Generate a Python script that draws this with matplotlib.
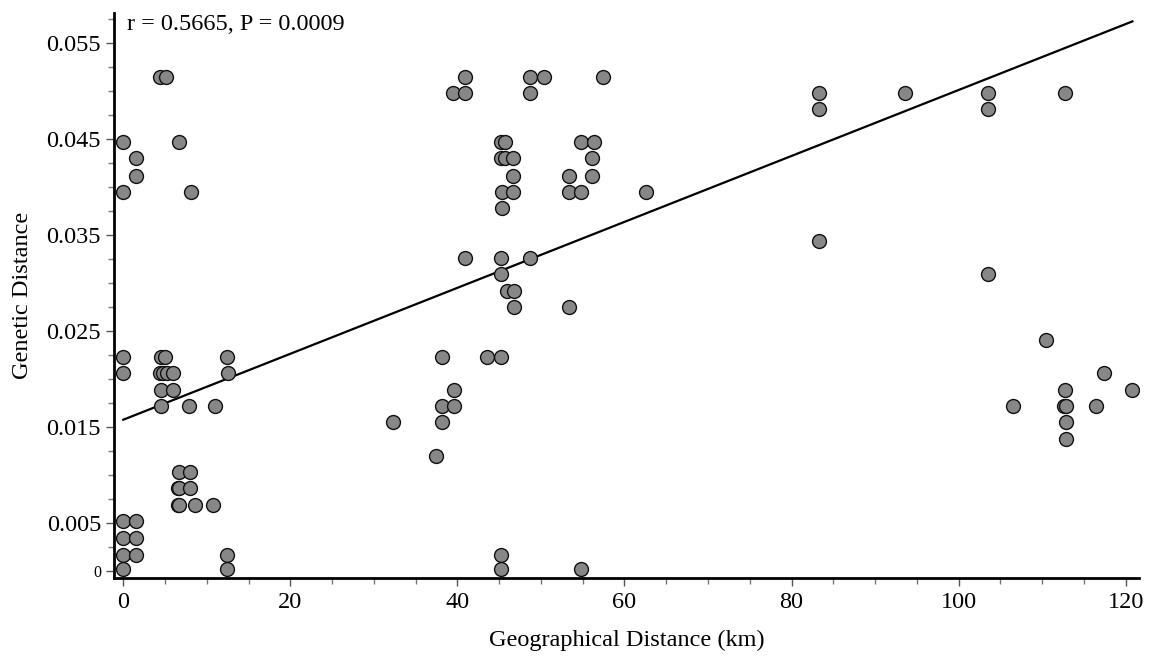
import matplotlib
matplotlib.use("Agg")
import matplotlib.pyplot as plt
import numpy as np
from matplotlib.ticker import FixedLocator, MultipleLocator

# geographical distance (km) and genetic distance for each pair
geo_km = [
    4.4, 5.1, 0.0, 1.5, 1.5, 0.0, 6.7, 8.1,
    0.0, 0.0, 4.5, 5.0, 4.4, 4.8, 5.2, 5.9, 4.5, 5.9, 4.5, 7.9, 11.0,
    12.4, 12.5, 6.7, 8.0, 6.5, 6.7, 8.0, 6.5, 6.7, 8.6, 10.7,
    0.0, 1.5, 0.0, 1.5, 0.0, 1.5, 0.0, 12.4, 12.4,
    32.3, 40.9, 39.5, 40.9, 48.7, 50.4, 48.7, 57.4,
    45.2, 45.7, 45.2, 45.7, 46.7, 46.7, 45.3, 46.7, 45.3,
    54.8, 56.3, 56.1, 53.4, 56.1, 53.4, 54.8, 62.6,
    40.9, 45.2, 48.7, 45.2, 45.9, 46.8, 46.8, 53.4,
    38.1, 43.6, 45.2, 39.6, 38.1, 39.6, 38.1, 37.4,
    45.2, 45.2, 54.8,
    83.3, 83.3, 93.6, 103.5, 103.5, 112.7,
    83.3, 103.5, 110.5, 117.4, 120.7, 112.7,
    112.6, 112.9, 106.5, 116.4, 112.9, 112.9,
]
gen_dist = [
    0.0515, 0.0515, 0.0447, 0.0430, 0.0412, 0.0395, 0.0447, 0.0395,
    0.0223, 0.0206, 0.0223, 0.0223, 0.0206, 0.0206, 0.0206, 0.0206, 0.0189, 0.0189, 0.0172, 0.0172, 0.0172,
    0.0223, 0.0206, 0.0103, 0.0103, 0.0086, 0.0086, 0.0086, 0.0069, 0.0069, 0.0069, 0.0069,
    0.0052, 0.0052, 0.0034, 0.0034, 0.0017, 0.0017, 0.0002, 0.0017, 0.0002,
    0.0155, 0.0515, 0.0498, 0.0498, 0.0515, 0.0515, 0.0498, 0.0515,
    0.0447, 0.0447, 0.0430, 0.0430, 0.0430, 0.0412, 0.0395, 0.0395, 0.0378,
    0.0447, 0.0447, 0.0430, 0.0412, 0.0412, 0.0395, 0.0395, 0.0395,
    0.0326, 0.0326, 0.0326, 0.0309, 0.0292, 0.0292, 0.0275, 0.0275,
    0.0223, 0.0223, 0.0223, 0.0189, 0.0172, 0.0172, 0.0155, 0.0120,
    0.0017, 0.0002, 0.0002,
    0.0498, 0.0481, 0.0498, 0.0498, 0.0481, 0.0498,
    0.0344, 0.0309, 0.0241, 0.0206, 0.0189, 0.0189,
    0.0172, 0.0172, 0.0172, 0.0172, 0.0155, 0.0138,
]

# regression line
fit_intercept = 0.01576
fit_slope = 0.0003435
fit_x = [0.0, 120.8]

y_ticks = [0, 0.005, 0.015, 0.025, 0.035, 0.045, 0.055]
y_tick_labels = ["0", "0.005", "0.015", "0.025", "0.035", "0.045", "0.055"]
x_ticks = [0, 20, 40, 60, 80, 100, 120]

stats_text = "r = 0.5665, P = 0.0009"

plt.rcParams["font.family"] = ["Liberation Serif", "DejaVu Serif"]

fig = plt.figure(figsize=(11.53, 6.57), dpi=100)
ax = fig.add_axes([0.0991, 0.1195, 0.8888, 0.8607])

ax.scatter(geo_km, gen_dist, s=100, facecolor="#878787", edgecolor="#111111",
           linewidths=1.0, zorder=3)

lx = np.array(fit_x)
ax.plot(lx, fit_intercept + fit_slope * lx, color="black", linewidth=1.6, zorder=2)

ax.set_xlim(-1.08, 121.6)
ax.set_ylim(-0.00078, 0.05813)

for side in ("top", "right"):
    ax.spines[side].set_visible(False)
for side in ("left", "bottom"):
    ax.spines[side].set_linewidth(2.0)

ax.xaxis.set_major_locator(FixedLocator(x_ticks))
ax.xaxis.set_minor_locator(MultipleLocator(5))
ax.yaxis.set_major_locator(FixedLocator(y_ticks))
ax.set_yticklabels(y_tick_labels)
ax.yaxis.set_minor_locator(MultipleLocator(0.0025))

ax.tick_params(axis="both", which="major", labelsize=17.5, length=6, width=1.0,
               color="#555555")
ax.tick_params(axis="both", which="minor", length=4, width=1.0, color="#777777")
ax.get_yticklabels()[0].set_fontsize(11.5)

ax.set_xlabel("Geographical Distance (km)", fontsize=17.5, labelpad=12)
ax.set_ylabel("Genetic Distance", fontsize=17.5, labelpad=10)

ax.text(0.012, 0.998, stats_text, transform=ax.transAxes, fontsize=17.5,
        ha="left", va="top")

fig.savefig("out.png", dpi=100)
